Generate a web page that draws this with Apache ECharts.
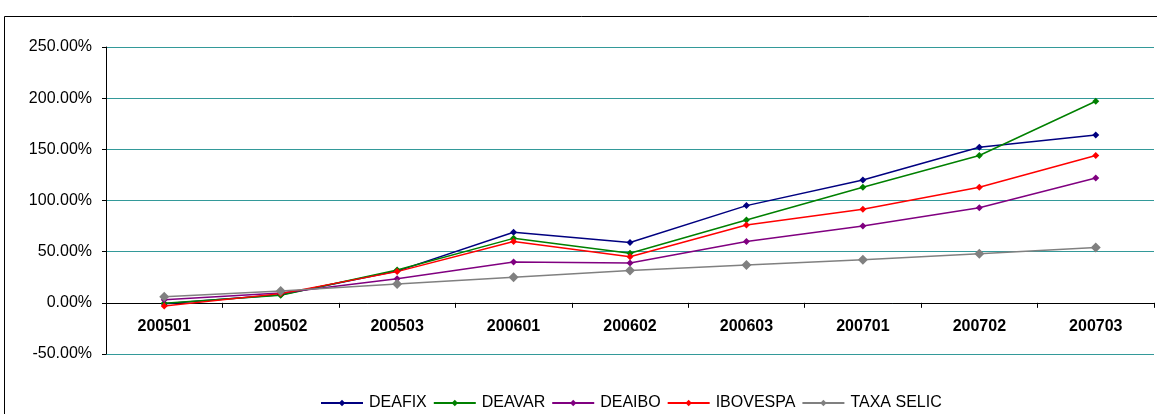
<!DOCTYPE html>
<html>
<head>
<meta charset="utf-8">
<script src="https://cdn.jsdelivr.net/npm/echarts@6/dist/echarts.min.js"></script>
<style>
  html, body { margin: 0; padding: 0; background: #fff; }
  #chart { width: 1157px; height: 414px; }
</style>
</head>
<body>
<div id="chart"></div>
<script>
// Periods (year + quarter code)
const categories = ['200501', '200502', '200503', '200601', '200602', '200603', '200701', '200702', '200703'];

// Accumulated returns, in percent
const deafix    = [-1, 8, 31, 69, 59, 95, 120, 152, 164];
const deavar    = [-0.5, 7.5, 32, 63, 48.5, 81, 113, 144, 197];
const deaibo    = [3, 9.5, 23.5, 40, 39, 60, 75, 93, 122];
const ibovespa  = [-3, 9, 30.5, 60, 45, 76, 91.5, 113, 144];
const taxaSelic = [6, 11.5, 18.5, 25, 31.5, 37, 42, 48, 54];

const yTicks = { min: -50, max: 250, interval: 50 };

const font = 'Liberation Sans, Arial, sans-serif';

// Plot box
const LEFT = 106, RIGHT = 3, TOP = 47, BOTTOM = 60;
// Height of the plot box, used to place the category labels under the 0% line
const PLOT_H = 414 - TOP - BOTTOM;
const zeroOffset = PLOT_H * (yTicks.max - 0) / (yTicks.max - yTicks.min);

function lineSeries(name, data, color, size) {
  return {
    name: name,
    type: 'line',
    data: data,
    xAxisIndex: 0,
    yAxisIndex: 0,
    symbol: 'diamond',
    symbolSize: size,
    showSymbol: true,
    lineStyle: { color: color, width: 1.5 },
    itemStyle: { color: color },
    emphasis: { disabled: true },
    animation: false
  };
}

const chart = echarts.init(document.getElementById('chart'), null, { renderer: 'canvas' });
chart.setOption({
  animation: false,
  backgroundColor: '#ffffff',
  graphic: [{
    type: 'rect',
    shape: { x: 4.5, y: 16.5, width: 1200, height: 500 },
    style: { fill: 'none', stroke: '#000', lineWidth: 1 },
    silent: true,
    z: -1
  }],
  grid: [
    { left: LEFT, right: RIGHT, top: TOP, bottom: BOTTOM, containLabel: false },
    // label strip: its bottom edge sits on the 0% line
    { left: LEFT, right: RIGHT, top: TOP, height: zeroOffset, containLabel: false }
  ],
  legend: {
    bottom: 3,
    left: 315,
    padding: [0, 5],
    itemWidth: 42,
    itemHeight: 8,
    itemGap: 6,
    textStyle: { fontFamily: font, fontSize: 16, color: '#000', padding: [0, 0, 0, 1] },
    data: ['DEAFIX', 'DEAVAR', 'DEAIBO', 'IBOVESPA', 'TAXA SELIC']
  },
  xAxis: [{
    type: 'category',
    gridIndex: 0,
    data: categories,
    boundaryGap: true,
    axisLine: { onZero: true, lineStyle: { color: '#000', width: 1 } },
    axisTick: { show: true, length: 5, inside: false, lineStyle: { color: '#000' } },
    axisLabel: { show: false },
    splitLine: { show: false }
  }, {
    type: 'category',
    gridIndex: 1,
    data: categories,
    boundaryGap: true,
    position: 'bottom',
    axisLine: { show: false },
    axisTick: { show: false },
    axisLabel: { margin: 16, fontFamily: font, fontSize: 16, fontWeight: 'bold', color: '#000' },
    splitLine: { show: false }
  }],
  yAxis: [{
    type: 'value',
    gridIndex: 0,
    min: yTicks.min,
    max: yTicks.max,
    interval: yTicks.interval,
    axisLine: { show: true, lineStyle: { color: '#000', width: 1 } },
    axisTick: { show: true, length: 4, lineStyle: { color: '#000' } },
    axisLabel: {
      margin: 14,
      fontFamily: font,
      fontSize: 16,
      color: '#000',
      formatter: v => v.toFixed(2) + '%'
    },
    splitLine: { show: true, lineStyle: { color: '#339999', width: 1 } }
  }, {
    type: 'value',
    gridIndex: 1,
    show: false,
    min: 0,
    max: 1,
    splitLine: { show: false }
  }],
  series: [
    lineSeries('DEAFIX', deafix, '#000080', 7),
    lineSeries('DEAVAR', deavar, '#008000', 7),
    lineSeries('DEAIBO', deaibo, '#800080', 7),
    lineSeries('IBOVESPA', ibovespa, '#ff0000', 7),
    lineSeries('TAXA SELIC', taxaSelic, '#808080', 10)
  ]
});
</script>
</body>
</html>
